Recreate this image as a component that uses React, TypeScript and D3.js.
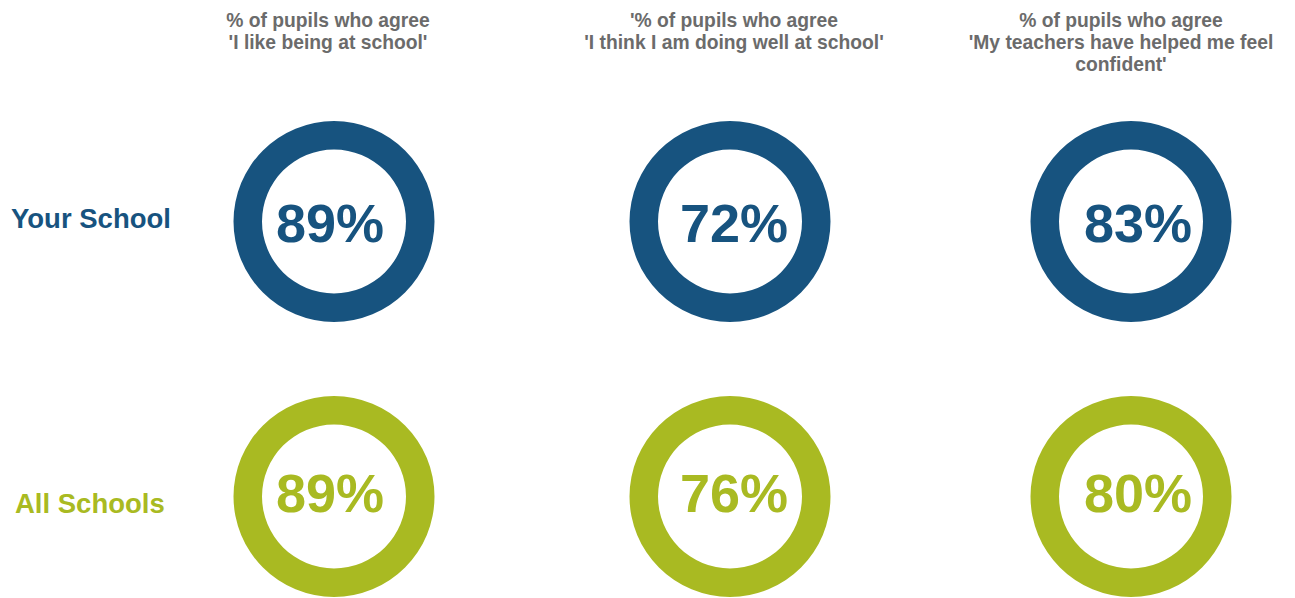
import React from "react";
import * as d3 from "d3";

const questions = [
  ["% of pupils who agree", "'I like being at school'"],
  ["'% of pupils who agree", "'I think I am doing well at school'"],
  ["% of pupils who agree", "'My teachers have helped me feel", "confident'"],
];
const groups = ["Your School", "All Schools"];
const yourSchool = [89, 72, 83];
const allSchools = [89, 76, 80];
const seriesValues = [yourSchool, allSchools];
const colors = ["#17537F", "#A9BA22"];

const W = 1295;
const H = 598;

export default function App() {
  const colIdx = questions.map((_, i) => i);
  const x = d3.scaleOrdinal<number, number>().domain(colIdx).range([334, 730, 1131]);
  const y = d3.scalePoint<string>().domain(groups).range([221.5, 496.5]);
  const arc = d3.arc<any>().innerRadius(72).outerRadius(100.5).startAngle(0).endAngle(2 * Math.PI);
  const titleOffsets = [-6, 4, -10];
  const textDx = [-4, 4, 7];
  const textBaseline = [20, 15];
  const labelX = [11, 15];
  const labelBaseline = [6.5, 16];

  return (
    <svg width={W} height={H} style={{ position: "absolute", left: 0, top: 0 }} fontFamily="'Liberation Sans', Arial, sans-serif">
      <rect width={W} height={H} fill="#ffffff" />
      {questions.map((lines, i) => (
        <text key={"t" + i} x={x(i) + titleOffsets[i]} y={27} textAnchor="middle" fontSize={19.3} fontWeight="bold" fill="#6b6b6b">
          {lines.map((l, j) => (
            <tspan key={j} x={x(i) + titleOffsets[i]} y={27 + j * 21.8}>{l}</tspan>
          ))}
        </text>
      ))}
      {groups.map((g, r) => (
        <g key={g}>
          <text x={labelX[r]} y={(y(g) as number) + labelBaseline[r]} fontSize={27.5} fontWeight="bold" fill={colors[r]}>{g}</text>
          {seriesValues[r].map((v, i) => (
            <g key={i} transform={`translate(${x(i)},${y(g)})`}>
              <path d={arc({}) as string} fill={colors[r]} />
              <text x={textDx[i]} y={textBaseline[r]} textAnchor="middle" fontSize={54} fontWeight="bold" fill={colors[r]}>{v}%</text>
            </g>
          ))}
        </g>
      ))}
    </svg>
  );
}
